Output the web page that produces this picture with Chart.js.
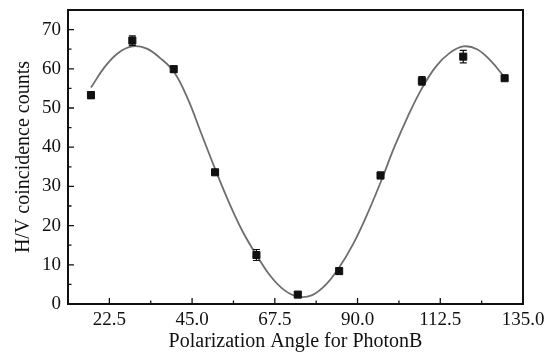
<!DOCTYPE html>
<html>
<head>
<meta charset="utf-8">
<script src="https://cdn.jsdelivr.net/npm/chart.js@4.4.0/dist/chart.umd.min.js"></script>
<style>
  html, body { margin: 0; padding: 0; background: #fff; }
  #wrap { width: 548px; height: 354px; }
</style>
</head>
<body>
<div id="wrap"><canvas id="myChart" width="548" height="354"></canvas></div>
<script>
// measured points
const angles = [17.5, 28.75, 40, 51.25, 62.5, 73.75, 85, 96.25, 107.5, 118.75, 130];
const counts = [53.3, 67.2, 59.9, 33.6, 12.5, 2.4, 8.4, 32.8, 56.9, 63.1, 57.6];
const errors = [0.9, 1.2, 0.8, 0.3, 1.4, 0.5, 0.8, 0.8, 1.1, 1.6, 0.4];

// fitted curve
const fitAngles = [17.5, 21.25, 25, 28.75, 32.5, 36.25, 40, 43.75, 47.5, 51.25, 55, 58.75, 62.5, 66.25, 70, 73.75,
  77.5, 81.25, 85, 88.75, 92.5, 96.25, 100, 103.75, 107.5, 111.25, 115, 118.75, 122.5, 126.25, 130];
const fitCounts = [55.2, 60.5, 64.1, 65.7, 65.2, 62.8, 59.3, 52.5, 43.5, 34.5, 26, 18.5, 12.5, 7.2, 3.6, 1.9,
  2.2, 4.8, 9.3, 15.2, 22.6, 31, 40, 48, 55, 60.5, 64, 65.7, 65, 62, 57.8];

const xTicks = [22.5, 45.0, 67.5, 90.0, 112.5, 135.0];
const xMinor = [33.75, 56.25, 78.75, 101.25, 123.75];
const yTicks = [0, 10, 20, 30, 40, 50, 60, 70];
const yMinor = [5, 15, 25, 35, 45, 55, 65];

const serif = "'Liberation Serif', 'DejaVu Serif', serif";

const frame = {
  id: 'frame',
  afterDatasetsDraw(chart) {
    const ctx = chart.ctx;
    const a = chart.chartArea;
    const x = chart.scales.x, y = chart.scales.y;
    ctx.save();
    ctx.strokeStyle = '#111';
    // error bars
    ctx.lineWidth = 1.2;
    angles.forEach((ang, i) => {
      const px = x.getPixelForValue(ang);
      const top = y.getPixelForValue(counts[i] + errors[i]);
      const bot = y.getPixelForValue(counts[i] - errors[i]);
      ctx.beginPath();
      ctx.moveTo(px, top); ctx.lineTo(px, bot);
      ctx.moveTo(px - 3.5, top); ctx.lineTo(px + 3.5, top);
      ctx.moveTo(px - 3.5, bot); ctx.lineTo(px + 3.5, bot);
      ctx.stroke();
    });
    // inward ticks
    ctx.lineWidth = 1.3;
    ctx.beginPath();
    xTicks.forEach(v => { const p = x.getPixelForValue(v); ctx.moveTo(p, a.bottom); ctx.lineTo(p, a.bottom - 6); });
    xMinor.forEach(v => { const p = x.getPixelForValue(v); ctx.moveTo(p, a.bottom); ctx.lineTo(p, a.bottom - 3.5); });
    yTicks.forEach(v => { const p = y.getPixelForValue(v); ctx.moveTo(a.left, p); ctx.lineTo(a.left + 6, p); });
    yMinor.forEach(v => { const p = y.getPixelForValue(v); ctx.moveTo(a.left, p); ctx.lineTo(a.left + 3.5, p); });
    ctx.stroke();
    // box
    ctx.lineWidth = 2;
    ctx.strokeRect(a.left, a.top, a.right - a.left, a.bottom - a.top);
    ctx.restore();
  }
};

new Chart(document.getElementById('myChart'), {
  type: 'scatter',
  data: {
    datasets: [
      {
        label: 'data',
        data: angles.map((a, i) => ({ x: a, y: counts[i] })),
        pointStyle: 'rect',
        pointRadius: 5,
        backgroundColor: '#111',
        borderColor: '#111',
        borderWidth: 1,
        showLine: false
      },
      {
        label: 'fit',
        type: 'line',
        data: fitAngles.map((a, i) => ({ x: a, y: fitCounts[i] })),
        borderColor: '#6e6e6e',
        borderWidth: 1.8,
        pointRadius: 0,
        tension: 0.4,
        fill: false
      }
    ]
  },
  options: {
    responsive: false,
    animation: false,
    events: [],
    layout: { padding: { left: 0, right: 25, top: 10, bottom: 0 } },
    plugins: { legend: { display: false }, tooltip: { enabled: false } },
    scales: {
      x: {
        type: 'linear',
        min: 11.25,
        max: 135,
        afterBuildTicks: s => { s.ticks = xTicks.map(v => ({ value: v })); },
        afterFit: s => { s.height = 50; s.paddingLeft = 0; s.paddingRight = 0; },
        grid: { display: false, drawTicks: false, tickLength: 0 },
        border: { display: false },
        ticks: {
          color: '#111',
          padding: 5,
          maxRotation: 0,
          autoSkip: false,
          font: { family: serif, size: 19 },
          callback: v => Number(v).toFixed(1)
        },
        title: {
          display: true,
          text: 'Polarization Angle for PhotonB',
          color: '#111',
          padding: { top: 0, bottom: 0 },
          font: { family: serif, size: 20 }
        }
      },
      y: {
        min: 0,
        max: 75,
        afterBuildTicks: s => { s.ticks = yTicks.map(v => ({ value: v })); },
        afterFit: s => { s.width = 68; s.paddingTop = 0; s.paddingBottom = 0; },
        grid: { display: false, drawTicks: false, tickLength: 0 },
        border: { display: false },
        ticks: {
          color: '#111',
          padding: 7,
          font: { family: serif, size: 19 }
        },
        title: {
          display: true,
          text: 'H/V coincidence counts',
          color: '#111',
          padding: { top: 12, bottom: 0 },
          font: { family: serif, size: 20 }
        }
      }
    }
  },
  plugins: [frame]
});
</script>
</body>
</html>
